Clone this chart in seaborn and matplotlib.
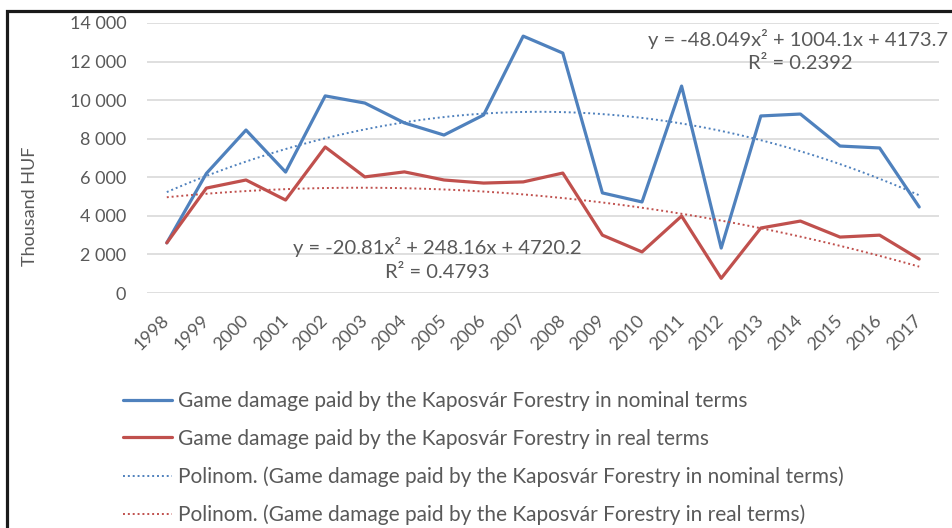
import numpy as np
import pandas as pd
import matplotlib
matplotlib.use('Agg')
import matplotlib.pyplot as plt
import matplotlib.patches as patches
from matplotlib.ticker import FuncFormatter
import seaborn as sns

# Values (thousand HUF)
years = [1998, 1999, 2000, 2001, 2002, 2003, 2004, 2005, 2006, 2007,
         2008, 2009, 2010, 2011, 2012, 2013, 2014, 2015, 2016, 2017]
nominal = [2600, 6200, 8450, 6270, 10220, 9850, 8820, 8190, 9230, 13320,
           12440, 5190, 4720, 10730, 2330, 9180, 9280, 7620, 7520, 4460]
real = [2600, 5440, 5860, 4820, 7570, 6020, 6280, 5860, 5700, 5760,
        6220, 3000, 2130, 3990, 760, 3370, 3730, 2900, 3000, 1760]

label_nom = "Game damage paid by the Kaposvár Forestry in nominal terms"
label_real = "Game damage paid by the Kaposvár Forestry in real terms"
eq_nom = ["y = -48.049x² + 1004.1x + 4173.7", "R² = 0.2392"]
eq_real = ["y = -20.81x² + 248.16x + 4720.2", "R² = 0.4793"]

blue = "#4F81BD"
red = "#C0504D"
grey_text = "#595959"

sns.set_style("white")
plt.rcParams['font.family'] = ['Lato', 'DejaVu Sans']

df = pd.DataFrame({"idx": np.arange(1, len(years) + 1),
                   "nominal": nominal, "real": real})

W, H = 953, 528
fig = plt.figure(figsize=(W / 100, H / 100), dpi=100)
ax = fig.add_axes([147 / W, 1 - 293 / H, 792 / W, 270 / H])

sns.lineplot(data=df, x="idx", y="nominal", color=blue, linewidth=2.3,
             label=label_nom, ax=ax)
sns.lineplot(data=df, x="idx", y="real", color=red, linewidth=2.3,
             label=label_real, ax=ax)

# 2nd order polynomial trend lines, fitted from the data
dots = (0, (1, 1.5))
sns.regplot(data=df, x="idx", y="nominal", order=2, ci=None, scatter=False,
            ax=ax, line_kws=dict(color=blue, linestyle=dots, lw=1.4))
ax.lines[-1].set_label("Polinom. (" + label_nom + ")")
sns.regplot(data=df, x="idx", y="real", order=2, ci=None, scatter=False,
            ax=ax, line_kws=dict(color=red, linestyle=dots, lw=1.4))
ax.lines[-1].set_label("Polinom. (" + label_real + ")")

ax.set_xlim(0.5, len(years) + 0.5)
ax.set_ylim(0, 14000)
ax.set_yticks(range(0, 14001, 2000))
ax.yaxis.set_major_formatter(FuncFormatter(lambda v, p: f"{int(v):,}".replace(",", " ")))
ax.set_xticks(df["idx"])
ax.set_xticklabels([str(y) for y in years], rotation=45, ha="right",
                   va="center", rotation_mode="anchor")
ax.tick_params(axis="x", length=0, pad=18, labelsize=13, labelcolor=grey_text)
ax.tick_params(axis="y", length=0, pad=15, labelsize=13, labelcolor=grey_text)

ax.grid(axis="y", color="#d9d9d9", lw=1.2)
ax.grid(axis="x", visible=False)
for s in ax.spines.values():
    s.set_visible(False)
ax.set_xlabel("")
ax.set_ylabel("Thousand HUF", fontsize=13, color=grey_text)
ax.yaxis.set_label_coords((38 - 147) / 792, (293 - 206) / 270)

# trendline equations
eq_size = 14.5
fig.text(798 / W, 1 - 39 / H, eq_nom[0], ha="center", va="center",
         fontsize=eq_size, color=grey_text)
fig.text(800 / W, 1 - 63 / H, eq_nom[1], ha="center", va="center",
         fontsize=eq_size, color=grey_text)
fig.text(437 / W, 1 - 247 / H, eq_real[0], ha="center", va="center",
         fontsize=eq_size, color=grey_text)
fig.text(437 / W, 1 - 272 / H, eq_real[1], ha="center", va="center",
         fontsize=eq_size, color=grey_text)

handles, labels = ax.get_legend_handles_labels()
if ax.get_legend() is not None:
    ax.get_legend().remove()
fig.legend(handles, labels, loc="upper left",
           bbox_to_anchor=(123 / W, 1 - 391 / H), frameon=False,
           fontsize=15, labelcolor=grey_text, borderpad=0, borderaxespad=0,
           handlelength=2.35, handletextpad=0.3, labelspacing=0.85)

# outer frame of the chart, cut off at the right and bottom
fig.patches.append(patches.Rectangle((7.5 / W, -0.2), 1.5, 1.2 - 10.5 / H,
                                     transform=fig.transFigure, fill=False,
                                     edgecolor="#1a1a1a", lw=2.3))

fig.savefig("out.png", dpi=100)
